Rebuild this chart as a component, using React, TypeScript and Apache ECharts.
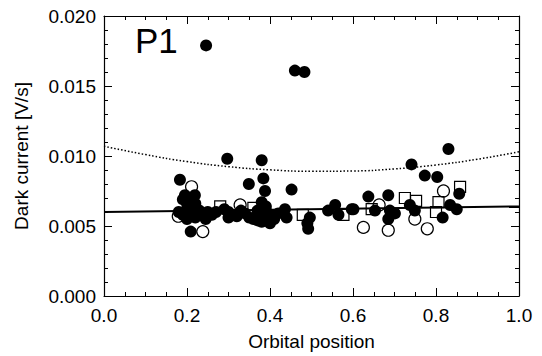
import React, { useEffect, useRef } from "react";
import * as echarts from "echarts";

// Filled circles [orbital position, dark current]
const filledPoints: [number, number][] = [
  [0.246, 0.0179], [0.46, 0.0161], [0.483, 0.016],
  [0.297, 0.0098], [0.38, 0.0097], [0.741, 0.0094], [0.83, 0.0105],
  [0.773, 0.0086], [0.803, 0.0085], [0.183, 0.0083], [0.349, 0.008],
  [0.384, 0.0084], [0.452, 0.0076], [0.388, 0.0075], [0.195, 0.0072],
  [0.219, 0.0072], [0.637, 0.0071], [0.685, 0.0072], [0.856, 0.0073],
  [0.19, 0.0069], [0.21, 0.0069], [0.2, 0.0066], [0.22, 0.0066],
  [0.18, 0.006], [0.19, 0.0058], [0.2, 0.0062], [0.21, 0.006],
  [0.22, 0.0062], [0.23, 0.0061], [0.24, 0.0058], [0.25, 0.006],
  [0.26, 0.0058], [0.2, 0.0055], [0.22, 0.0056], [0.245, 0.0055],
  [0.209, 0.0046], [0.27, 0.006],
  [0.29, 0.0062], [0.3, 0.006], [0.31, 0.0058], [0.3, 0.0056],
  [0.32, 0.0057], [0.33, 0.0061], [0.34, 0.0059], [0.35, 0.0056],
  [0.36, 0.0055], [0.37, 0.0061], [0.38, 0.0057], [0.38, 0.0067],
  [0.39, 0.0064], [0.39, 0.0061], [0.4, 0.0058], [0.41, 0.0055],
  [0.4, 0.0052], [0.38, 0.0053], [0.37, 0.0054], [0.42, 0.0059],
  [0.436, 0.0062], [0.44, 0.0056],
  [0.496, 0.0056], [0.492, 0.0048], [0.49, 0.0052],
  [0.557, 0.0065], [0.54, 0.0061], [0.565, 0.0058], [0.597, 0.0062],
  [0.601, 0.0062], [0.653, 0.0061], [0.689, 0.0061], [0.685, 0.0055],
  [0.701, 0.0059], [0.737, 0.0065], [0.749, 0.0061], [0.816, 0.0056],
  [0.834, 0.0065], [0.85, 0.0062],
];

// Open circles
const openPoints: [number, number][] = [
  [0.211, 0.0078], [0.179, 0.0057], [0.238, 0.0046], [0.328, 0.0065],
  [0.4, 0.0055], [0.663, 0.0065], [0.625, 0.0049], [0.685, 0.0047],
  [0.779, 0.0048], [0.749, 0.0055], [0.818, 0.0075],
];

// Open squares
const squarePoints: [number, number][] = [
  [0.28, 0.0064], [0.36, 0.0063], [0.479, 0.0058], [0.577, 0.0058],
  [0.645, 0.0062], [0.725, 0.007], [0.752, 0.0068], [0.806, 0.0067],
  [0.8, 0.006], [0.858, 0.0078],
];

// Linear fit (solid)
const fitLine: [number, number][] = [[0, 0.006], [1, 0.0064]];

// Upper envelope (dotted), read at x = 0.0, 0.1, ..., 1.0
const envelopeX = [0, 0.1, 0.2, 0.3, 0.4, 0.5, 0.6, 0.7, 0.8, 0.9, 1.0];
const envelopeY = [0.0107, 0.0101, 0.0096, 0.00924, 0.00901, 0.00891, 0.00893, 0.00908, 0.00936, 0.00977, 0.0103];

const xTicks = ["0.0", "0.2", "0.4", "0.6", "0.8", "1.0"];
const yTicks = ["0.000", "0.005", "0.010", "0.015", "0.020"];

const FONT = "'Liberation Sans', Arial, Helvetica, sans-serif";

export default function App() {
  const ref = useRef<HTMLDivElement>(null);
  useEffect(() => {
    if (!ref.current) return;
    const chart = echarts.init(ref.current, undefined, { renderer: "svg" });
    const axisCommon = {
      type: "value" as const,
      axisLine: { show: true, onZero: false, lineStyle: { color: "#000", width: 1.2 } },
      axisTick: { show: true, inside: true, length: 8, lineStyle: { color: "#000", width: 1 } },
      minorTick: { show: true, length: 4, lineStyle: { color: "#000", width: 1 } },
      splitLine: { show: false },
      minorSplitLine: { show: false },
    };
    const xAxisBase = {
      ...axisCommon,
      min: 0,
      max: 1,
      interval: 0.2,
      minorTick: { ...axisCommon.minorTick, splitNumber: 4 },
    };
    const yAxisBase = {
      ...axisCommon,
      min: 0,
      max: 0.02,
      interval: 0.005,
      minorTick: { ...axisCommon.minorTick, splitNumber: 5 },
    };
    chart.setOption({
      animation: false,
      backgroundColor: "#fff",
      textStyle: { fontFamily: FONT },
      grid: { left: 104, right: 23, top: 16, bottom: 52 },
      xAxis: [
        {
          ...xAxisBase,
          position: "bottom",
          name: "Orbital position",
          nameLocation: "middle",
          nameGap: 36,
          nameTextStyle: { fontSize: 19, color: "#000", fontFamily: FONT },
          axisLabel: {
            fontSize: 19,
            color: "#000",
            margin: 10,
            fontFamily: FONT,
            formatter: (v: number) => xTicks[Math.round(v / 0.2)] ?? "",
          },
        },
        { ...xAxisBase, position: "top", axisLabel: { show: false } },
      ],
      yAxis: [
        {
          ...yAxisBase,
          position: "left",
          name: "Dark current [V/s]",
          nameLocation: "middle",
          nameGap: 73,
          nameTextStyle: { fontSize: 19, color: "#000", fontFamily: FONT },
          axisLabel: {
            fontSize: 19,
            color: "#000",
            margin: 8,
            fontFamily: FONT,
            formatter: (v: number) => yTicks[Math.round(v / 0.005)] ?? "",
          },
        },
        { ...yAxisBase, position: "right", axisLabel: { show: false } },
      ],
      graphic: [
        {
          type: "text",
          left: 135,
          top: 23,
          style: { text: "P1", fontSize: 35, fill: "#000", fontFamily: FONT },
        },
      ],
      series: [
        {
          type: "line",
          data: envelopeX.map((x, i) => [x, envelopeY[i]]),
          smooth: true,
          symbol: "none",
          lineStyle: { color: "#000", width: 1.5, type: [1.5, 2] },
          z: 1,
        },
        {
          type: "scatter",
          data: squarePoints,
          symbol: "rect",
          symbolSize: 11,
          itemStyle: { color: "rgba(0,0,0,0)", borderColor: "#000", borderWidth: 1.2, opacity: 1 },
          z: 2,
        },
        {
          type: "scatter",
          data: openPoints,
          symbol: "circle",
          symbolSize: 12,
          itemStyle: { color: "rgba(0,0,0,0)", borderColor: "#000", borderWidth: 1.2, opacity: 1 },
          z: 3,
        },
        {
          type: "scatter",
          data: filledPoints,
          symbol: "circle",
          symbolSize: 12,
          itemStyle: { color: "#000", opacity: 1 },
          z: 4,
        },
        {
          type: "line",
          data: fitLine,
          symbol: "none",
          lineStyle: { color: "#000", width: 2 },
          z: 5,
        },
      ],
    });
    return () => chart.dispose();
  }, []);
  return (
    <div
      ref={ref}
      style={{ position: "fixed", left: 0, top: 0, width: 542, height: 356, background: "#fff" }}
    />
  );
}
